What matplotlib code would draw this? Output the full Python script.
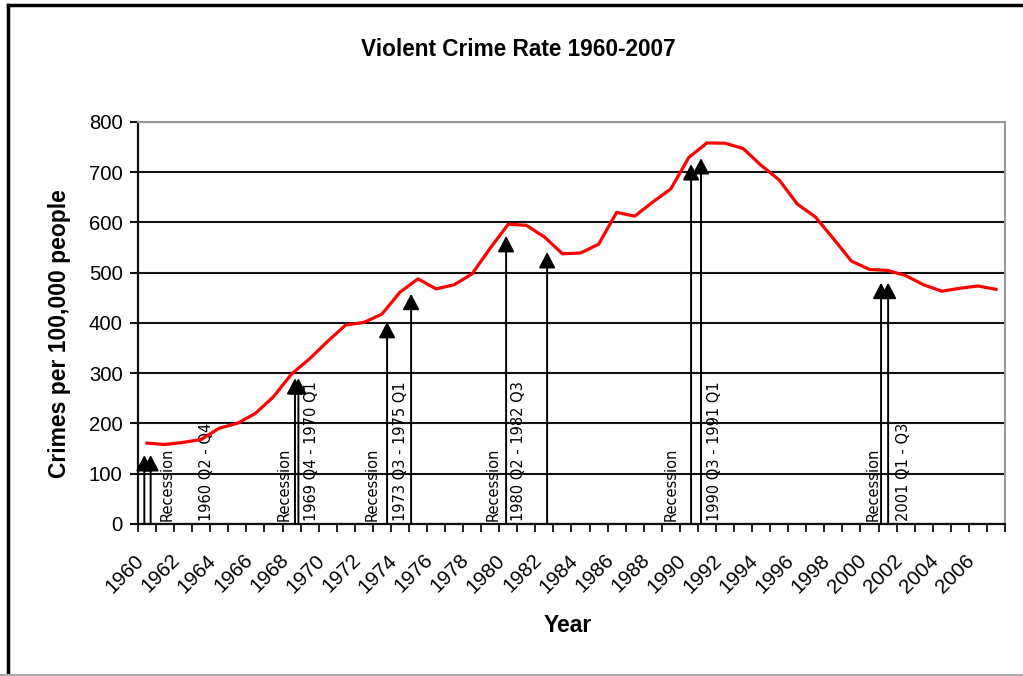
import matplotlib as mpl
mpl.use('Agg')
import matplotlib.pyplot as plt
from matplotlib.lines import Line2D
from matplotlib.transforms import ScaledTranslation
import numpy as np

plt.rcParams['font.family'] = ['Liberation Sans', 'DejaVu Sans']

# violent crimes per 100,000 people, 1960-2007
years = list(range(1960, 2008))
rate = [160.9, 158.1, 162.3, 168.2, 190.6, 200.2, 220.0, 253.2, 298.4, 328.7,
        363.5, 396.0, 401.0, 417.4, 461.1, 487.8, 467.8, 475.9, 497.8, 548.9,
        596.6, 594.3, 571.1, 537.7, 539.2, 556.6, 620.1, 612.5, 640.6, 666.9,
        729.6, 758.2, 757.7, 747.1, 713.6, 684.5, 636.6, 611.0, 567.6, 523.0,
        506.5, 504.5, 494.4, 475.8, 463.2, 469.0, 473.6, 466.9]

# recession arrows: x in category units (1960 = 0), tip value
arrow_x = [-0.15, 0.20, 8.19, 8.38, 13.29, 14.62, 19.88, 22.15, 30.12, 30.67, 40.64, 41.03]
arrow_tip = [137, 137, 290, 290, 402, 458, 573, 541, 716, 728, 480, 480]

# recession labels: x in category units, text
label_x = [1.12, 3.28, 7.58, 9.13, 12.45, 14.05, 19.18, 20.57, 29.04, 31.42, 40.22, 41.88]
label_txt = ['Recession', '1960 Q2 - Q4',
             'Recession', '1969 Q4 - 1970 Q1',
             'Recession', '1973 Q3 - 1975 Q1',
             'Recession', '1980 Q2 - 1982 Q3',
             'Recession', '1990 Q3 - 1991 Q1',
             'Recession', '2001 Q1 - Q3']

fig = plt.figure(figsize=(10.23, 6.76), dpi=100)
ax = fig.add_axes([0.1349, 0.2249, 0.8475, 0.5947])

x = np.arange(len(years))
ax.plot(x, rate, color='#ff0000', lw=2.3, zorder=5, solid_joinstyle='round')

for xa, tip in zip(arrow_x, arrow_tip):
    ax.annotate('', xy=(xa, tip), xytext=(xa, 0),
                arrowprops=dict(arrowstyle='-|>,head_length=0.8,head_width=0.42',
                                color='black', lw=1.4, shrinkA=0, shrinkB=0,
                                mutation_scale=12), zorder=4)

for lx, t in zip(label_x, label_txt):
    ax.text(lx, 6, t, rotation=90, rotation_mode='anchor', ha='left', va='center',
            fontsize=10.5, color='black', zorder=3, family='DejaVu Sans')

ax.set_xlim(-0.5, len(years) - 0.5)
ax.set_ylim(0, 800)
ax.set_yticks(range(0, 801, 100))
ax.yaxis.grid(True, color='#111111', lw=1.5)
ax.set_axisbelow(True)
ax.tick_params(axis='y', direction='out', length=6, width=1.5, color='#111111',
               labelsize=14.6, pad=5)

ax.set_xticks(x[::2])
ax.set_xticklabels([str(y) for y in years[::2]], rotation=45, ha='right',
                   va='center', rotation_mode='anchor', fontsize=14.8)
ax.set_xticks(np.arange(-0.5, len(years), 1), minor=True)
ax.tick_params(axis='x', which='major', length=0, pad=24)
ax.tick_params(axis='x', which='minor', direction='out', length=6, width=1.3,
               color='#111111')
offs = ScaledTranslation(-6 / 100, 0, fig.dpi_scale_trans)
for lab in ax.get_xticklabels():
    lab.set_transform(lab.get_transform() + offs)

ax.spines['left'].set_color('#111111')
ax.spines['left'].set_linewidth(1.6)
ax.spines['bottom'].set_color('#111111')
ax.spines['bottom'].set_linewidth(1.6)
ax.spines['top'].set_color('#999999')
ax.spines['top'].set_linewidth(1.5)
ax.spines['right'].set_color('#999999')
ax.spines['right'].set_linewidth(1.5)

fig.text(0.507, 0.9275, 'Violent Crime Rate 1960-2007', ha='center', va='center',
         fontsize=16.3, fontweight='bold')
fig.text(0.0582, 0.506, 'Crimes per 100,000 people', ha='center', va='center',
         rotation=90, fontsize=16.5, fontweight='bold')
fig.text(0.555, 0.0754, 'Year', ha='center', va='center', fontsize=16.5,
         fontweight='bold')

# chart frame
fig.add_artist(Line2D([0.0083, 0.0083], [0.0, 0.9933], transform=fig.transFigure,
                      color='black', lw=2.5))
fig.add_artist(Line2D([0.0083, 1.0], [0.9933, 0.9933], transform=fig.transFigure,
                      color='black', lw=2.5))
fig.add_artist(Line2D([0.0, 1.0], [0.0015, 0.0015], transform=fig.transFigure,
                      color='#aaaaaa', lw=1.5))

fig.savefig('out.png', dpi=100)
